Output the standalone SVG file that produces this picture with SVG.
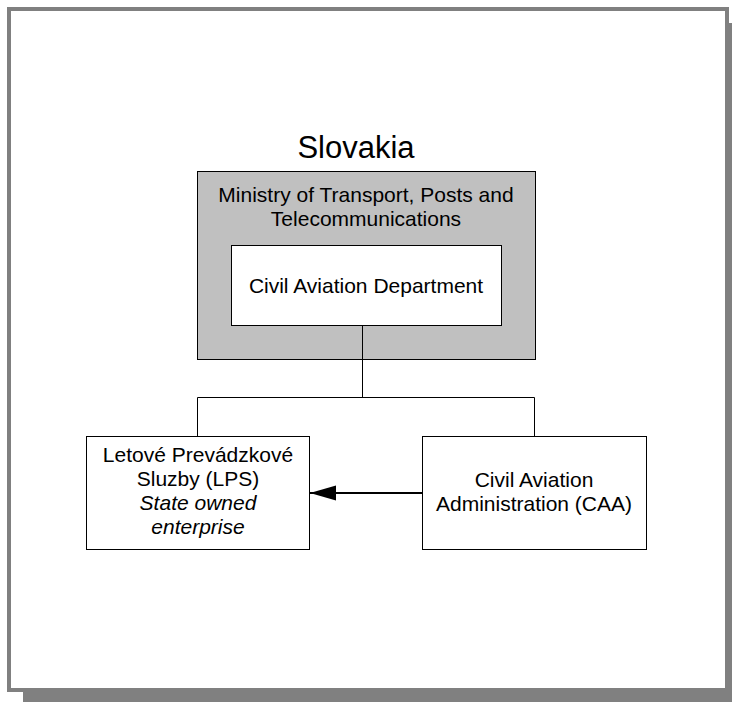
<svg xmlns="http://www.w3.org/2000/svg" width="732" height="702" viewBox="0 0 732 702">
<style>
text{font-family:"Liberation Sans",Arial,sans-serif;font-size:21px;fill:#000;text-anchor:middle}
.box{fill:#fff;stroke:#000;stroke-width:1}
.ln{fill:none;stroke:#000;stroke-width:1}
</style>
<defs>
<marker id="ah" markerWidth="27" markerHeight="16" refX="26" refY="8" orient="auto" markerUnits="userSpaceOnUse">
<path d="M0,0.5 L26,8 L0,15.5 Z" fill="#000"/>
</marker>
</defs>
<rect x="23" y="23" width="725" height="685" fill="#808080"/>
<rect x="9" y="9" width="718" height="681" fill="#fff" stroke="#808080" stroke-width="4"/>
<text x="356" y="158" style="font-size:31px">Slovakia</text>
<g id="ministry">
<rect x="197.5" y="171.5" width="338" height="188" fill="#c0c0c0" stroke="#000" stroke-width="1"/>
<text x="366" y="202">Ministry of Transport, Posts and</text>
<text x="366" y="226">Telecommunications</text>
</g>
<g id="cad">
<rect class="box" x="231.5" y="245.5" width="270" height="80"/>
<text x="366" y="293">Civil Aviation Department</text>
</g>
<g id="connectors">
<path class="ln" d="M362.5,325.5 V397.5 M197.5,397.5 H534.5 M197.5,397.5 V436 M534.5,397.5 V436"/>
<path d="M422,493 H310" stroke="#000" stroke-width="2" fill="none" marker-end="url(#ah)"/>
</g>
<g id="lps">
<rect class="box" x="86.5" y="436.5" width="223" height="113"/>
<text x="198" y="462">Letové Prevádzkové</text>
<text x="198" y="486">Sluzby (LPS)</text>
<text x="198" y="510" font-style="italic">State owned</text>
<text x="198" y="534" font-style="italic">enterprise</text>
</g>
<g id="caa">
<rect class="box" x="422.5" y="436.5" width="224" height="113"/>
<text x="534" y="487">Civil Aviation</text>
<text x="534" y="511">Administration (CAA)</text>
</g>
</svg>
